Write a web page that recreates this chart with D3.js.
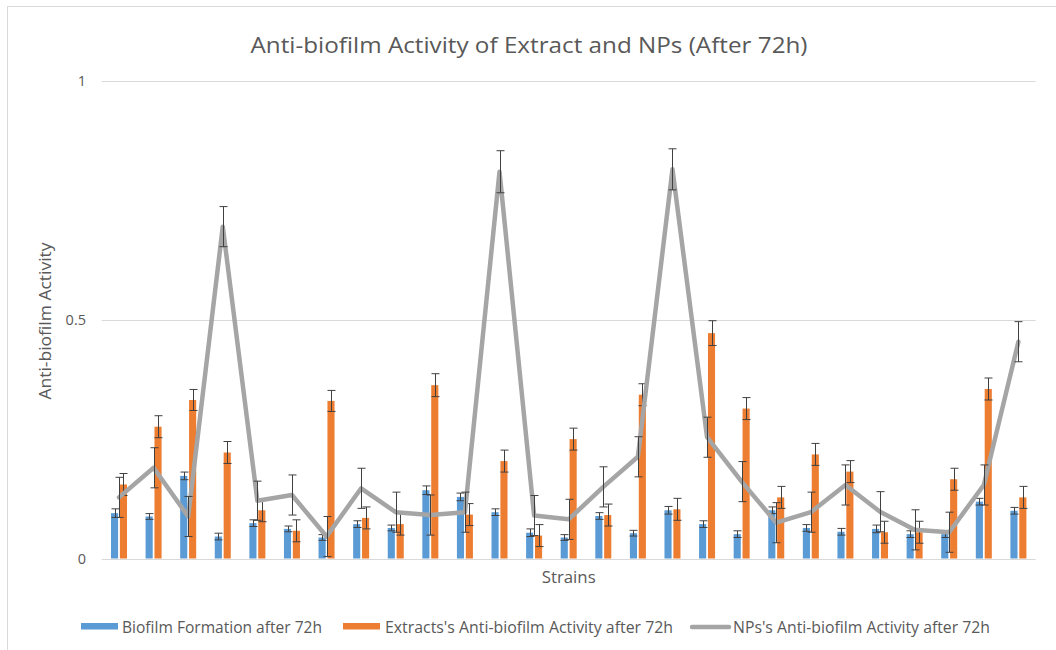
<!DOCTYPE html>
<html><head><meta charset="utf-8">
<script src="https://cdn.jsdelivr.net/npm/d3@7"></script>
<style>
body{margin:0;background:#fff}
text{font-family:'Open Sans','Noto Sans',sans-serif;fill:#595959}
</style>
</head><body>
<svg id="c" width="1056" height="650"></svg>
<script>
// ---------- data ----------
const categories = ["1","2","3","4","5","6","7","8","9","10","11","12","13","14","15","16","17","18","19","20","21","22","23","24","25","26","27"];
const seriesNames = ["Biofilm Formation after 72h","Extracts's Anti-biofilm Activity after 72h","NPs's Anti-biofilm Activity after 72h"];
const biofilm    = [0.095,0.088,0.173,0.046,0.074,0.062,0.044,0.072,0.064,0.143,0.129,0.097,0.054,0.044,0.089,0.053,0.101,0.072,0.051,0.101,0.064,0.056,0.062,0.051,0.051,0.119,0.100];
const biofilmErr = [0.009,0.006,0.008,0.007,0.007,0.006,0.006,0.007,0.006,0.009,0.008,0.007,0.008,0.006,0.007,0.006,0.008,0.007,0.007,0.007,0.007,0.007,0.008,0.007,0.007,0.007,0.007];
const extract    = [0.155,0.276,0.332,0.222,0.101,0.058,0.330,0.085,0.072,0.363,0.092,0.204,0.048,0.250,0.091,0.343,0.103,0.472,0.314,0.128,0.218,0.182,0.055,0.055,0.166,0.355,0.128];
const extractErr = [0.023,0.023,0.022,0.023,0.024,0.023,0.022,0.023,0.023,0.024,0.023,0.023,0.023,0.023,0.023,0.023,0.023,0.026,0.023,0.023,0.023,0.023,0.023,0.023,0.023,0.023,0.023];
const nps        = [0.128,0.190,0.088,0.695,0.121,0.133,0.046,0.147,0.097,0.091,0.097,0.810,0.090,0.082,0.150,0.213,0.815,0.254,0.161,0.075,0.097,0.154,0.098,0.060,0.055,0.154,0.454];
const npsErr     = [0.042,0.042,0.042,0.042,0.041,0.042,0.042,0.042,0.042,0.042,0.042,0.044,0.042,0.042,0.042,0.042,0.043,0.042,0.042,0.042,0.042,0.042,0.042,0.042,0.042,0.042,0.042];
const yTicks = [0, 0.5, 1];
const yTickLabels = ["0","0.5","1"];
const colors = ["#5B9BD5","#ED7D31","#A5A5A5"];

// ---------- layout ----------
const svg = d3.select("#c");
const pLeft = 101.7, pRight = 1035.7, pTop = 81, pBottom = 558.5;
const x = d3.scaleBand().domain(categories).range([pLeft, pRight]).padding(0);
const y = d3.scaleLinear().domain([0, 1]).range([pBottom, pTop]);
const x1 = d3.scaleBand().domain([0, 1]).range([-8, 8]).paddingInner(0.2);
const cx = c => x(c) + x.bandwidth() / 2;

// chart border
svg.append("rect").attr("x", 7.5).attr("y", 6.5).attr("width", 1070).attr("height", 680)
  .attr("fill", "none").attr("stroke", "#d9d9d9").attr("stroke-width", 1);

// title
svg.append("text").attr("x", 529).attr("y", 53).attr("text-anchor", "middle")
  .attr("font-size", 22.5).attr("textLength", 557).attr("lengthAdjust", "spacingAndGlyphs")
  .text("Anti-biofilm Activity of Extract and NPs (After 72h)");

// gridlines
svg.append("g").selectAll("line").data(yTicks).join("line")
  .attr("x1", pLeft).attr("x2", pRight)
  .attr("y1", d => Math.round(y(d)) + 0.5).attr("y2", d => Math.round(y(d)) + 0.5)
  .attr("stroke", "#d9d9d9").attr("stroke-width", 1);

// y tick labels
svg.append("g").selectAll("text").data(yTicks).join("text")
  .attr("x", 86).attr("y", d => y(d)).attr("dy", "0.36em").attr("text-anchor", "end")
  .attr("font-size", 14.5).text((d, i) => yTickLabels[i]);

// axis titles
svg.append("text").attr("transform", "translate(50.5,321) rotate(-90)").attr("text-anchor", "middle")
  .attr("font-size", 16).attr("textLength", 157).attr("lengthAdjust", "spacingAndGlyphs")
  .text("Anti-biofilm Activity");
svg.append("text").attr("x", (pLeft + pRight) / 2).attr("y", 583).attr("text-anchor", "middle")
  .attr("font-size", 16).attr("textLength", 54).attr("lengthAdjust", "spacingAndGlyphs").text("Strains");

// bars
const barSeries = [{v: biofilm, e: biofilmErr}, {v: extract, e: extractErr}];
const errColor = "#404040";
barSeries.forEach((s, si) => {
  const g = svg.append("g");
  g.selectAll("rect").data(categories).join("rect")
    .attr("x", (c) => cx(c) + x1(si))
    .attr("width", x1.bandwidth())
    .attr("y", (c, i) => y(s.v[i]))
    .attr("height", (c, i) => y(0) - y(s.v[i]))
    .attr("fill", colors[si]);
});
barSeries.forEach((s, si) => {
  const g = svg.append("g").attr("stroke", errColor).attr("stroke-width", 1);
  categories.forEach((c, i) => {
    const bx = Math.round(cx(c) + x1(si) + x1.bandwidth() / 2) + 0.5;
    const y1 = y(s.v[i] + s.e[i]), y2 = y(s.v[i] - s.e[i]);
    g.append("line").attr("x1", bx).attr("x2", bx).attr("y1", y1).attr("y2", y2);
    g.append("line").attr("x1", bx - 4).attr("x2", bx + 4).attr("y1", y1).attr("y2", y1);
    g.append("line").attr("x1", bx - 4).attr("x2", bx + 4).attr("y1", y2).attr("y2", y2);
  });
});

// line
const line = d3.line().x((d, i) => cx(categories[i])).y(d => y(d));
svg.append("path").datum(nps).attr("d", line).attr("fill", "none")
  .attr("stroke", colors[2]).attr("stroke-width", 4.5).attr("stroke-linejoin", "round").attr("stroke-linecap", "round");
{
  const g = svg.append("g").attr("stroke", errColor).attr("stroke-width", 1);
  categories.forEach((c, i) => {
    const bx = Math.round(cx(c)) + 0.5;
    const y1 = y(nps[i] + npsErr[i]), y2 = y(nps[i] - npsErr[i]);
    g.append("line").attr("x1", bx).attr("x2", bx).attr("y1", y1).attr("y2", y2);
    g.append("line").attr("x1", bx - 4).attr("x2", bx + 4).attr("y1", y1).attr("y2", y1);
    g.append("line").attr("x1", bx - 4).attr("x2", bx + 4).attr("y1", y2).attr("y2", y2);
  });
}

// legend
const legend = svg.append("g");
const legItems = [
  {sx: 81, tx: 122, tw: 200, type: "rect"},
  {sx: 343, tx: 385, tw: 288, type: "rect"},
  {sx: 691, tx: 733, tw: 257, type: "line"}
];
legItems.forEach((it, i) => {
  if (it.type === "rect") {
    legend.append("rect").attr("x", it.sx).attr("y", 623).attr("width", 37).attr("height", 6.5).attr("fill", colors[i]);
  } else {
    legend.append("line").attr("x1", it.sx + 1).attr("x2", it.sx + 38).attr("y1", 627).attr("y2", 627)
      .attr("stroke", colors[i]).attr("stroke-width", 4.5).attr("stroke-linecap", "round");
  }
  legend.append("text").attr("x", it.tx).attr("y", 633).attr("font-size", 15.5)
    .attr("textLength", it.tw).attr("lengthAdjust", "spacingAndGlyphs").text(seriesNames[i]);
});
</script>
</body></html>
